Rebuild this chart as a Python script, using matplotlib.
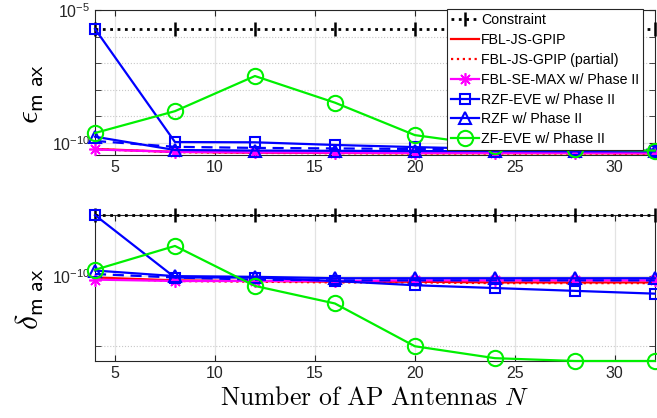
import numpy as np
import matplotlib
matplotlib.use("Agg")
import matplotlib.pyplot as plt
from matplotlib.ticker import FixedLocator, NullFormatter

plt.rcParams['font.family'] = ['Liberation Sans', 'DejaVu Sans']
plt.rcParams['mathtext.fontset'] = 'cm'
# used only for the tick labels (math_fontfamily='custom')
plt.rcParams['mathtext.rm'] = 'Liberation Sans'
plt.rcParams['mathtext.it'] = 'Liberation Sans:italic'
plt.rcParams['mathtext.sf'] = 'Liberation Sans'

# number of AP antennas
N = [4, 8, 12, 16, 20, 24, 28, 32]

# log10 of epsilon_max (top panel)
eps_constraint = [-5.71] * 8
eps_fbl = [-10.22, -10.33, -10.36, -10.37, -10.38, -10.38, -10.38, -10.39]
eps_fbl_partial = [-10.23, -10.34, -10.37, -10.38, -10.39, -10.39, -10.39, -10.40]
eps_fbl_se = [-10.24, -10.33, -10.35, -10.36, -10.37, -10.37, -10.37, -10.38]
eps_rzf_eve = [-5.71, -9.96, -9.97, -10.07, -10.15, -10.22, -10.27, -10.30]
eps_rzf = [-9.76, -10.26, -10.28, -10.29, -10.30, -10.30, -10.31, -10.31]
eps_zf_eve = [-9.62, -8.80, -7.48, -8.48, -9.70, -10.11, -10.24, -10.28]
eps_rzf_dash = [-9.92, -10.14, -10.18, -10.20, -10.22, -10.23, -10.24, -10.25]

# log10 of delta_max (bottom panel)
del_constraint = [-9.13] * 8
del_fbl = [-10.02, -10.06, -10.07, -10.08, -10.08, -10.09, -10.09, -10.09]
del_fbl_partial = [-10.03, -10.07, -10.08, -10.09, -10.09, -10.10, -10.10, -10.10]
del_fbl_se = [-10.05, -10.07, -10.07, -10.07, -10.06, -10.06, -10.06, -10.06]
del_rzf_eve = [-9.13, -10.02, -10.02, -10.07, -10.13, -10.17, -10.21, -10.25]
del_rzf = [-9.92, -10.00, -10.01, -10.03, -10.03, -10.03, -10.03, -10.03]
del_zf_eve = [-9.91, -9.57, -10.14, -10.39, -11.00, -11.17, -11.21, -11.21]
del_rzf_dash = [-9.97, -10.02, -10.05, -10.06, -10.06, -10.06, -10.06, -10.06]

green = '#00f000'


def draw(ax, cons, fbl, fblp, fblse, rzfeve, rzf, zfeve, dash):
    p = lambda v: 10.0 ** np.array(v)
    ax.plot(N, p(cons), ':', color='k', lw=2, marker='|', ms=10, mew=1.8,
            label='Constraint', zorder=3, clip_on=False)
    ax.plot(N, p(fbl), '-', color='r', lw=1.6, label='FBL-JS-GPIP', zorder=4)
    ax.plot(N, p(fblp), ':', color='r', lw=1.6, label='FBL-JS-GPIP (partial)', zorder=4)
    ax.plot(N, p(fblse), '-', color='#ff00ff', lw=1.6, marker=(8, 2, 0), ms=9, mew=1.2,
            label='FBL-SE-MAX w/ Phase II', zorder=5, clip_on=False)
    ax.plot(N, p(rzfeve), '-', color='b', lw=1.6, marker='s', ms=7, mfc='none',
            mew=1.5, label='RZF-EVE w/ Phase II', zorder=6, clip_on=False)
    ax.plot(N, p(rzf), '-', color='b', lw=1.6, marker='^', ms=9, mfc='none',
            mew=1.5, label='RZF w/ Phase II', zorder=6, clip_on=False)
    ax.plot(N, p(zfeve), '-', color=green, lw=1.6, marker='o', ms=11, mfc='none',
            mew=1.5, label='ZF-EVE w/ Phase II', zorder=7, clip_on=False)
    ax.plot(N, p(dash), '--', color='b', lw=1.6, dashes=(5, 3), zorder=6)

    ax.set_yscale('log')
    ax.set_xlim(4, 32)
    ax.set_xticks([5, 10, 15, 20, 25, 30])
    ax.grid(True, axis='x', which='major', color='#e3e3e3', lw=0.9, ls='-')
    ax.grid(True, axis='y', which='major', color='#e3e3e3', lw=0.9, ls='-')
    ax.grid(True, axis='y', which='minor', color='#c8c8c8', lw=0.8, ls=':')
    ax.tick_params(which='both', direction='in', top=True, right=True,
                   labelsize=11.5, length=4, color='#262626', labelcolor='#262626')
    for s in ax.spines.values():
        s.set_color('#262626')
        s.set_linewidth(0.8)
    ax.set_axisbelow(True)


fig = plt.figure(figsize=(6.57, 4.18), dpi=100)
ax1 = fig.add_axes([0.1446, 0.629, 0.852, 0.347])
ax2 = fig.add_axes([0.1446, 0.1364, 0.852, 0.349])

draw(ax1, eps_constraint, eps_fbl, eps_fbl_partial, eps_fbl_se, eps_rzf_eve,
     eps_rzf, eps_zf_eve, eps_rzf_dash)
draw(ax2, del_constraint, del_fbl, del_fbl_partial, del_fbl_se, del_rzf_eve,
     del_rzf, del_zf_eve, del_rzf_dash)

ax1.set_ylim(10 ** -10.45, 1e-5)
ax1.yaxis.set_major_locator(FixedLocator([1e-10, 1e-5]))
ax1.set_yticklabels([r'$10^{-10}$', r'$10^{-5}$'], math_fontfamily='custom')
ax1.yaxis.set_minor_locator(FixedLocator([1e-9, 1e-8, 1e-7, 1e-6]))
ax1.yaxis.set_minor_formatter(NullFormatter())

ax2.set_ylim(10 ** -11.21, 10 ** -9.13)
ax2.yaxis.set_major_locator(FixedLocator([1e-10]))
ax2.set_yticklabels([r'$10^{-10}$'], math_fontfamily='custom')
ax2.yaxis.set_minor_locator(FixedLocator([1e-11]))
ax2.yaxis.set_minor_formatter(NullFormatter())

ax1.set_ylabel(r'$\epsilon_{\mathsf{m\ ax}}$', fontsize=23)
ax2.set_ylabel(r'$\delta_{\mathsf{m\ ax}}$', fontsize=23)
ax1.yaxis.set_label_coords(-0.088, 0.42)
ax2.yaxis.set_label_coords(-0.088, 0.42)
ax2.set_xlabel(r'$\mathrm{Number\ of\ AP\ Antennas}\ N$', fontsize=18.5, labelpad=4)

leg = ax1.legend(loc='upper right', bbox_to_anchor=(0.9786, 1.006), borderaxespad=0,
                 fontsize=10.2, numpoints=1, handlelength=2.0, handletextpad=0.15,
                 labelspacing=0.42, borderpad=0.25, fancybox=False, framealpha=1)
leg.get_frame().set_edgecolor('#262626')
leg.get_frame().set_linewidth(0.8)
leg.set_zorder(10)

fig.savefig('out.png', dpi=100)
